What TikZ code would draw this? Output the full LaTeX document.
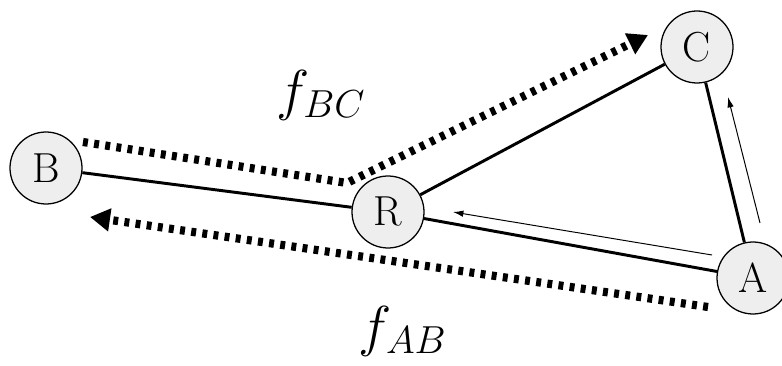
\documentclass[tikz,border=0pt]{standalone}
\usepackage{graphicx}
\usetikzlibrary{arrows.meta}
\newcommand{\stname}[1]{\scalebox{1.2}{\Huge #1}}
\newcommand{\flowname}[1]{\scalebox{1.93}{\huge $#1$}}

\begin{document}
\begin{tikzpicture}[>=Latex,
  station/.style={circle,draw,line width=0.9pt,fill=gray!13,minimum size=1.8cm,inner sep=0pt},
  link/.style={line width=2.1pt},
  flow/.style={line width=5.8pt,dash pattern=on 3.5pt off 4.5pt,-{Triangle[length=5mm,width=5.5mm]}},
  probe/.style={line width=0.7pt,-{Latex[length=2.6mm,width=1.6mm]}}]
\useasboundingbox (0,0) rectangle (19.55,9.125);
% stations
\node[station] (B) at (1.15,4.925) {\stname{B}};
\node[station] (R) at (9.7,3.825) {\stname{R}};
\node[station] (C) at (17.425,7.95) {\stname{C}};
\node[station] (A) at (18.825,2.175) {\stname{A}};
% links
\draw[link] (B) -- (R);
\draw[link] (R) -- (C);
\draw[link] (R) -- (A);
\draw[link] (C) -- (A);
% flow ends
\coordinate (bcstart) at (2.075,5.575);
\coordinate (bcbend) at (8.675,4.55);
\coordinate (bcend) at (16.2,8.25);
\coordinate (abstart) at (17.7,1.45);
\coordinate (abend) at (2.25,3.7);
\draw[flow] (bcstart) -- (bcbend) -- (bcend);
\draw[flow] (abstart) -- (abend);
\node (fbc) at (8.025,6.75) {\flowname{f_{BC}}};
\node (fab) at (10.075,0.85) {\flowname{f_{AB}}};
% probes from A
\coordinate (arstart) at (17.8,2.75);
\coordinate (arend) at (11.325,3.825);
\coordinate (acstart) at (19.0,3.55);
\coordinate (acend) at (18.2,6.7);
\draw[probe] (arstart) -- (arend);
\draw[probe] (acstart) -- (acend);
\end{tikzpicture}
\end{document}
